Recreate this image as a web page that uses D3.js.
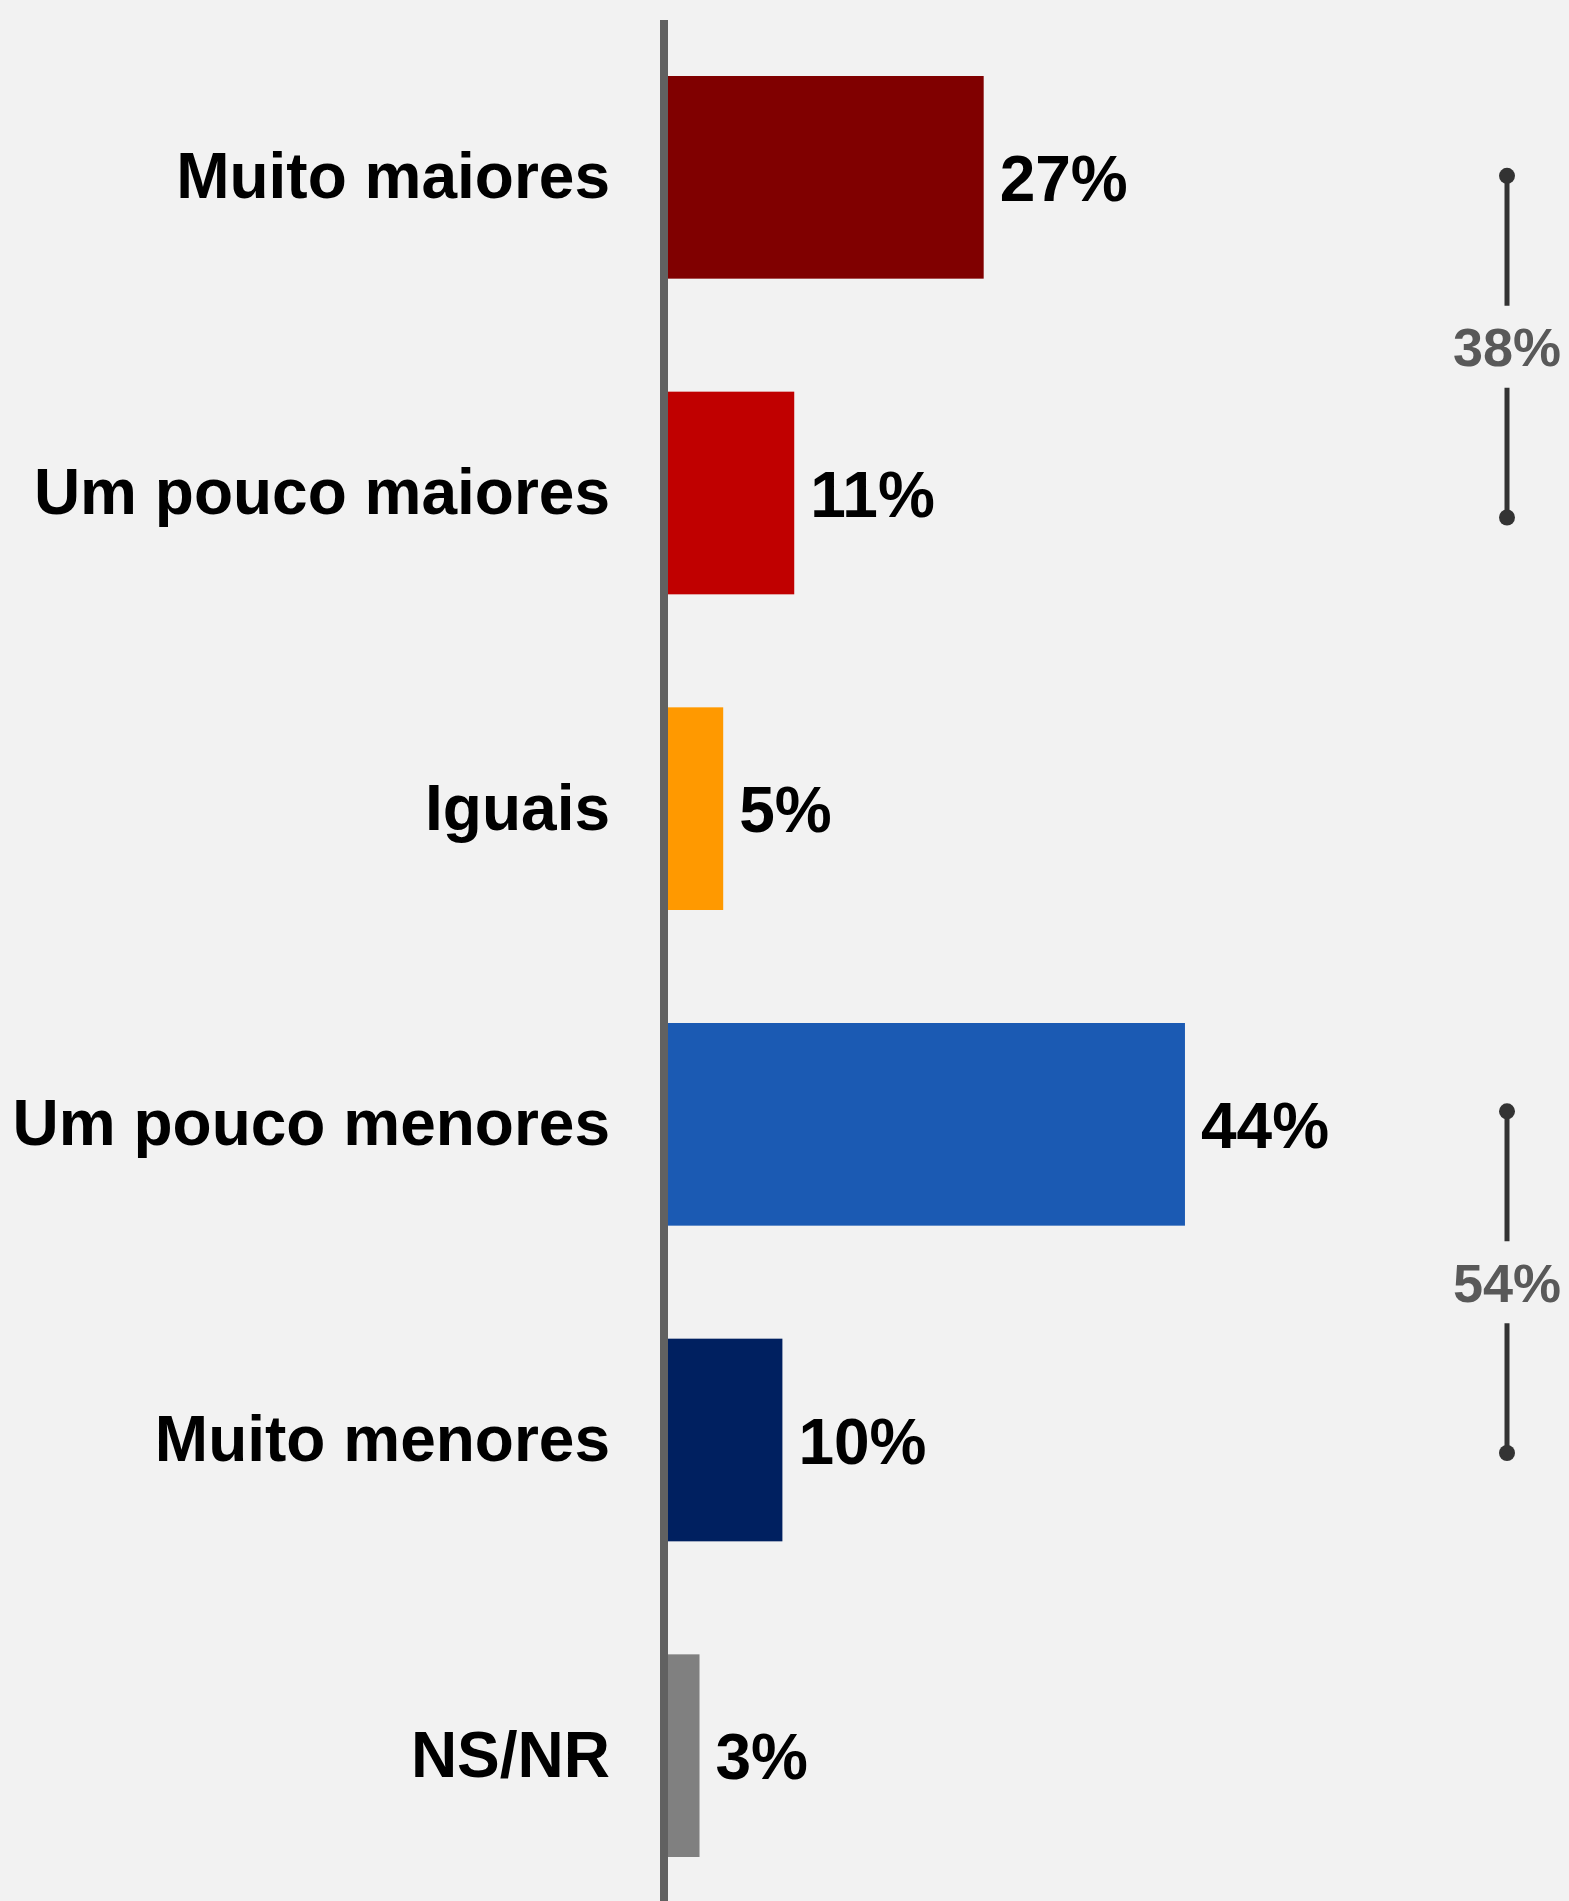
<!DOCTYPE html>
<html>
<head>
<meta charset="utf-8">
<script src="https://cdn.jsdelivr.net/npm/d3@7"></script>
<style>
  html, body { margin: 0; padding: 0; background: #f2f2f2; }
  svg { display: block; }
</style>
</head>
<body>
<svg id="chart" width="1569" height="1901"></svg>
<script>
const categories = ["Muito maiores", "Um pouco maiores", "Iguais", "Um pouco menores", "Muito menores", "NS/NR"];
const values = [27, 11, 5, 44, 10, 3];
const colors = ["#800000", "#c00000", "#ff9900", "#1b5ab3", "#002060", "#808080"];
const valueLabels = ["27%", "11%", "5%", "44%", "10%", "3%"];
const bracketGroups = [["Muito maiores", "Um pouco maiores"], ["Um pouco menores", "Muito menores"]];
const bracketLabels = ["38%", "54%"];

const W = 1569, H = 1901;
const axisX = 664;
const svg = d3.select("#chart");
svg.append("rect").attr("width", W).attr("height", H).attr("fill", "#f2f2f2");

const x = d3.scaleLinear().domain([0, 50]).range([axisX, axisX + 592]);
const y = d3.scaleBand().domain(categories).range([76, 1857]).paddingInner(0.358).paddingOuter(0);

const font = "'Liberation Sans', Arial, sans-serif";

// bars
svg.append("g").selectAll("rect").data(categories).join("rect")
  .attr("x", x(0))
  .attr("y", d => y(d))
  .attr("width", (d, i) => x(values[i]) - x(0))
  .attr("height", y.bandwidth())
  .attr("fill", (d, i) => colors[i]);

// axis line
svg.append("line")
  .attr("x1", axisX).attr("x2", axisX)
  .attr("y1", 20).attr("y2", H)
  .attr("stroke", "#616161").attr("stroke-width", 8);

// category labels
svg.append("g").selectAll("text").data(categories).join("text")
  .attr("x", axisX - 54)
  .attr("y", d => y(d) + y.bandwidth() / 2)
  .attr("dy", "0.33em")
  .attr("text-anchor", "end")
  .attr("font-family", font).attr("font-weight", "bold").attr("font-size", 64)
  .attr("fill", "#000")
  .text(d => d);

// value labels
svg.append("g").selectAll("text").data(categories).join("text")
  .attr("x", (d, i) => x(values[i]) + 16)
  .attr("y", d => y(d) + y.bandwidth() / 2)
  .attr("dy", "0.37em")
  .attr("font-family", font).attr("font-weight", "bold").attr("font-size", 64)
  .attr("fill", "#000")
  .text((d, i) => valueLabels[i]);

// brackets
const bx = 1507, ext = 13, gap = 41;
const bracketShift = [11.5, 0];
bracketGroups.forEach((g, i) => {
  const c0 = y(g[0]) + y.bandwidth() / 2;
  const c1 = y(g[1]) + y.bandwidth() / 2;
  const top = c0 - ext + bracketShift[i], bot = c1 + ext + bracketShift[i], mid = (top + bot) / 2;
  const bg = svg.append("g");
  bg.append("line").attr("x1", bx).attr("x2", bx).attr("y1", top).attr("y2", mid - gap)
    .attr("stroke", "#333").attr("stroke-width", 5);
  bg.append("line").attr("x1", bx).attr("x2", bx).attr("y1", mid + gap).attr("y2", bot)
    .attr("stroke", "#333").attr("stroke-width", 5);
  bg.append("circle").attr("cx", bx).attr("cy", top).attr("r", 8).attr("fill", "#333");
  bg.append("circle").attr("cx", bx).attr("cy", bot).attr("r", 8).attr("fill", "#333");
  bg.append("text").attr("x", bx).attr("y", mid).attr("dy", "0.36em")
    .attr("text-anchor", "middle")
    .attr("font-family", font).attr("font-weight", "bold").attr("font-size", 54)
    .attr("fill", "#595959")
    .text(bracketLabels[i]);
});
</script>
</body>
</html>
